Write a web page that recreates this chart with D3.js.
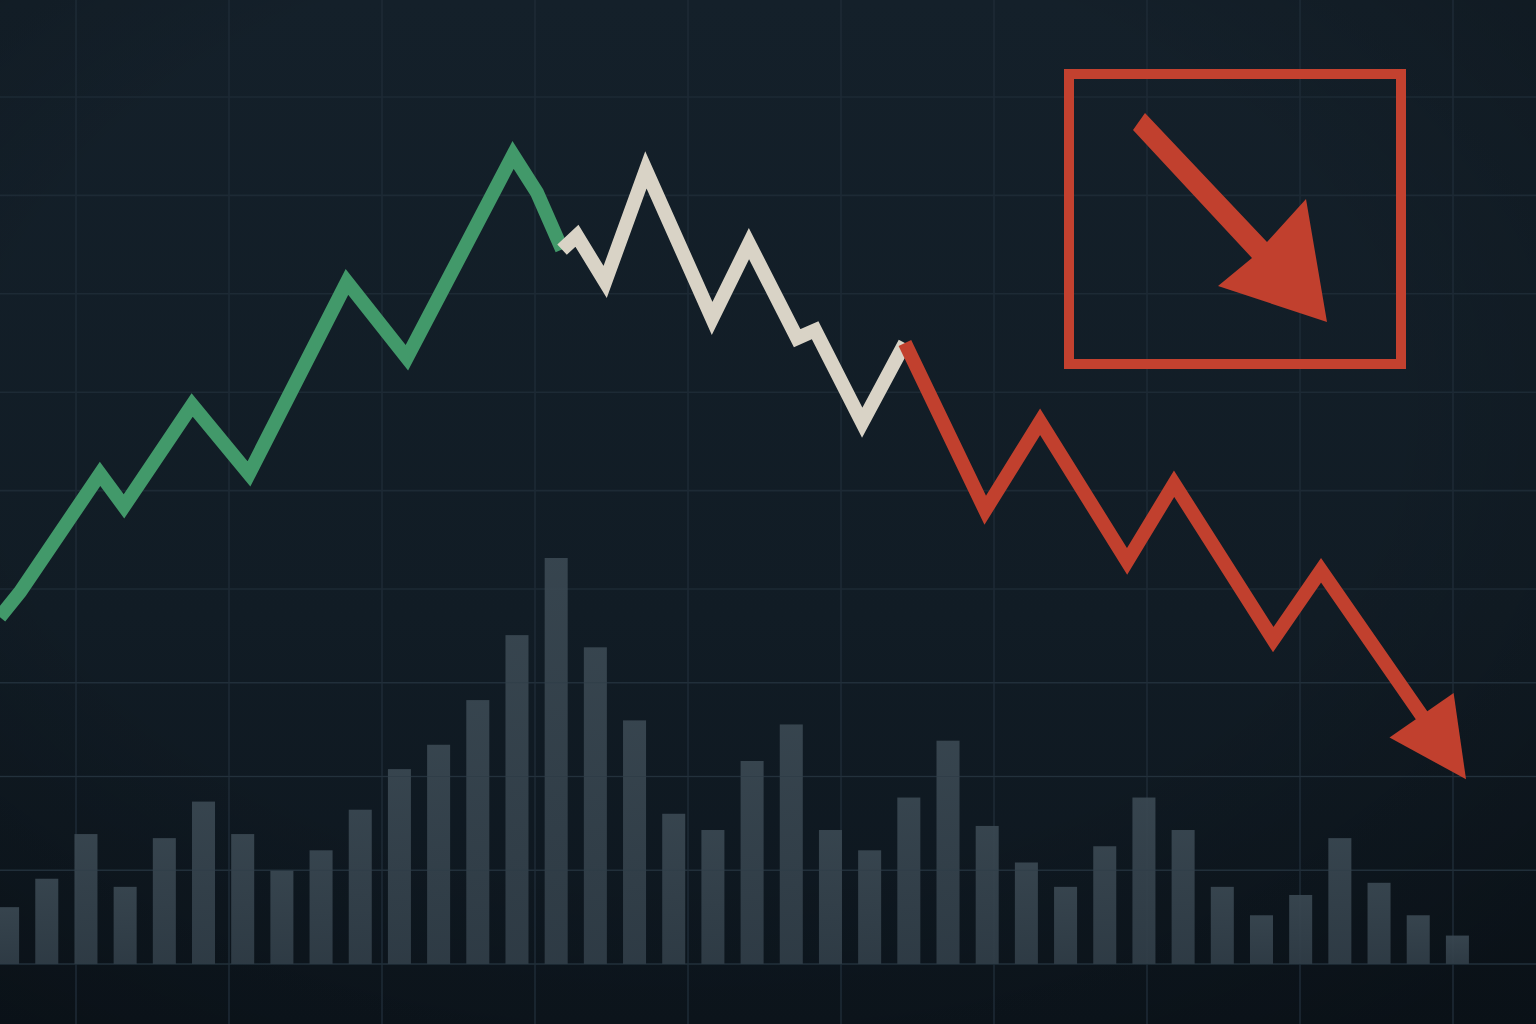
<!DOCTYPE html>
<html><head><meta charset="utf-8">
<script src="https://cdn.jsdelivr.net/npm/d3@7"></script>
<style>html,body{margin:0;padding:0;background:#121d26;}svg{display:block;}</style>
</head><body>
<script>
// ---------- data ----------
const volume = [14,21,32,19,31,40,32,23,28,38,48,54,65,81,100,78,60,37,33,50,59,33,28,41,55,34,25,19,29,41,33,19,12,17,31,20,12,7];
// price path: time (bar units) and price
const greenT = [0.30,0.82,2.86,3.47,5.21,6.66,9.16,10.69,13.40,14.01,14.65];
const greenP = [37.0,39.7,51.7,48.4,58.7,51.7,71.2,63.5,84.1,80.3,74.5];
const whiteT = [14.65,15.03,15.75,16.79,18.48,19.42,20.65,21.11,22.31,23.40];
const whiteP = [74.5,75.9,71.2,82.6,67.5,75.1,65.5,66.3,56.9,65.0];
const redT = [23.40,25.45,26.85,29.07,30.27,32.80,34.02,37.72];
const redP = [65.0,48.0,57.0,42.8,50.7,34.6,41.9,19.7];
const gridRows = [0,10,20,30,40,50,60,70,80,90];
const gridCols = [1,2,3,4,5,6,7,8,9,10];

const W = 1536, H = 1024;
const svg = d3.select("body").append("svg").attr("width", W).attr("height", H);
const defs = svg.append("defs");

const bg = defs.append("linearGradient").attr("id","bg").attr("x1",0).attr("y1",0).attr("x2",0).attr("y2",1);
bg.append("stop").attr("offset","0%").attr("stop-color","#14202a");
bg.append("stop").attr("offset","60%").attr("stop-color","#111c25");
bg.append("stop").attr("offset","100%").attr("stop-color","#0d161e");
const vg = defs.append("radialGradient").attr("id","vg").attr("cx","45%").attr("cy","40%").attr("r","75%");
vg.append("stop").attr("offset","60%").attr("stop-color","#000").attr("stop-opacity",0);
vg.append("stop").attr("offset","100%").attr("stop-color","#000").attr("stop-opacity",0.22);
const barG = defs.append("linearGradient").attr("id","barG").attr("x1",0).attr("y1",0).attr("x2",0).attr("y2",1);
barG.append("stop").attr("offset","0%").attr("stop-color","#3a4852");
barG.append("stop").attr("offset","100%").attr("stop-color","#313e48");

svg.append("rect").attr("width",W).attr("height",H).attr("fill","url(#bg)");
svg.append("rect").attr("width",W).attr("height",H).attr("fill","url(#vg)");

// ---------- scales ----------
const x = d3.scaleLinear().domain([0,38]).range([-12,1477]);
const y = d3.scaleLinear().domain([0,40,90]).range([964,589,97]);
const yv = d3.scaleLinear().domain([0,100]).range([964,558]);
const gx = d3.scaleLinear().domain([0,10]).range([-77,1453]);

// ---------- grid ----------
const grid = svg.append("g").attr("stroke","#1d2a35").attr("stroke-width",1.6);
grid.selectAll("line.h").data(gridRows).join("line").attr("class","h")
  .attr("x1",0).attr("x2",W).attr("y1",d=>y(d)).attr("y2",d=>y(d));
grid.selectAll("line.v").data(gridCols).join("line").attr("class","v")
  .attr("y1",0).attr("y2",H).attr("x1",d=>gx(d)).attr("x2",d=>gx(d));

// ---------- bars ----------
const bw = 23;
svg.append("g").selectAll("rect").data(volume).join("rect")
  .attr("x",(d,i)=>x(i+0.5)-bw/2).attr("width",bw)
  .attr("y",d=>yv(d)).attr("height",d=>yv(0)-yv(d))
  .attr("fill","url(#barG)").attr("opacity",0.92);
svg.append("g").attr("stroke","#2a3843").attr("stroke-width",1.2).attr("opacity",0.5)
  .selectAll("line").data(gridRows.filter(d=>d<40)).join("line")
  .attr("x1",0).attr("x2",W).attr("y1",d=>y(d)).attr("y2",d=>y(d));

// ---------- price line ----------
const line = d3.line().x(d=>x(d[0])).y(d=>y(d[1]));
const zip = (a,b)=>a.map((v,i)=>[v,b[i]]);
const lw = 14;
function seg(pts,color){
  svg.append("path").datum(pts).attr("d",line).attr("fill","none")
    .attr("stroke",color).attr("stroke-width",lw)
    .attr("stroke-linejoin","miter").attr("stroke-miterlimit",8);
}
seg(zip(greenT,greenP),"#42996a");
seg(zip(whiteT,whiteP),"#d9d3c6");

// red with arrowhead at final point
const redPts = zip(redT,redP);
const tip = [x(redT[redT.length-1]), y(redP[redP.length-1])];
const prev = [x(redT[redT.length-2]), y(redP[redP.length-2])];
const dx = tip[0]-prev[0], dy = tip[1]-prev[1], L = Math.hypot(dx,dy);
const ux = dx/L, uy = dy/L, nx = -uy, ny = ux;
const headLen = 78, headHalf = 39;
const base = [tip[0]-ux*headLen, tip[1]-uy*headLen];
const shaftPx = redPts.slice(0,-1).map(d=>[x(d[0]),y(d[1])]);
shaftPx.push([base[0]+ux*6, base[1]+uy*6]);
svg.append("path").attr("d",d3.line()(shaftPx)).attr("fill","none")
  .attr("stroke","#c1402e").attr("stroke-width",lw)
  .attr("stroke-linejoin","miter").attr("stroke-miterlimit",8);
svg.append("path").attr("d",d3.line()([
    [base[0]+nx*headHalf, base[1]+ny*headHalf], tip,
    [base[0]-nx*headHalf, base[1]-ny*headHalf]])+"Z")
  .attr("fill","#c1402e");

// ---------- downtrend icon ----------
const icon = svg.append("g");
icon.append("rect").attr("x",1069).attr("y",74).attr("width",332).attr("height",290)
  .attr("fill","none").attr("stroke","#c3412f").attr("stroke-width",10);
icon.append("path").attr("d","M1133,130 L1145,113 L1267,242 L1306,199 L1327,322 L1218,286 L1252,258 Z")
  .attr("fill","#c1402e");
</script>
</body></html>
